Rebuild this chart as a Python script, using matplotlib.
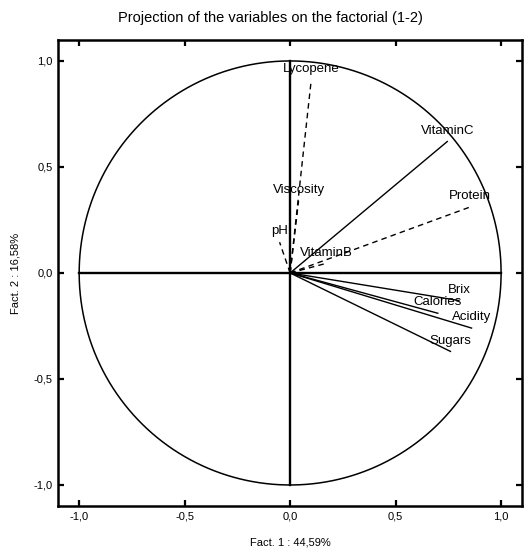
import numpy as np
import matplotlib
matplotlib.use("Agg")
import matplotlib.pyplot as plt

# Factor loadings of each variable on factors 1 and 2
variables = ["Lycopene", "VitaminC", "Protein", "Viscosity", "pH",
             "VitaminB", "Brix", "Calories", "Acidity", "Sugars"]
fact1 = [0.10, 0.745, 0.85, 0.04, -0.05, 0.17, 0.80, 0.70, 0.86, 0.76]
fact2 = [0.91, 0.62, 0.31, 0.34, 0.145, 0.045, -0.13, -0.19, -0.26, -0.37]
dashed = [True, False, True, True, True, True, False, False, False, False]

ticks = [-1.0, -0.5, 0.0, 0.5, 1.0]
tick_labels = ["-1,0", "-0,5", "0,0", "0,5", "1,0"]

title = "Projection of the variables on the factorial (1-2)"
xlabel = "Fact. 1 : 44,59%"
ylabel = "Fact. 2 : 16,58%"

plt.rcParams["font.family"] = ["Liberation Sans", "DejaVu Sans"]

fig = plt.figure(figsize=(5.28, 5.52), dpi=100)
ax = fig.add_axes([0.110, 0.083, 0.879, 0.845])

# Unit correlation circle
theta = np.linspace(0, 2 * np.pi, 400)
ax.plot(np.cos(theta), np.sin(theta), color="black", lw=1.1)

# Axes through the origin
ax.plot([-1, 1], [0, 0], color="black", lw=1.7)
ax.plot([0, 0], [-1, 1], color="black", lw=1.7)

# Variable vectors and labels
for name, x, y, d in zip(variables, fact1, fact2, dashed):
    ax.plot([0, x], [0, y], color="black", lw=1.0,
            linestyle=(0, (4, 3)) if d else "-")
    ax.annotate(name, (x, y), xytext=(0, 3.5), textcoords="offset points",
                ha="center", va="bottom", fontsize=9.5)

ax.set_xlim(-1.1, 1.1)
ax.set_ylim(-1.1, 1.1)
ax.set_xticks(ticks)
ax.set_xticklabels(tick_labels)
ax.set_yticks(ticks)
ax.set_yticklabels(tick_labels)
ax.tick_params(direction="in", length=4, width=1.6, labelsize=8,
               top=True, right=True, pad=4)
for s in ax.spines.values():
    s.set_linewidth(1.8)

ax.set_xlabel(xlabel, fontsize=8, labelpad=11)
ax.set_ylabel(ylabel, fontsize=8, labelpad=9)
fig.text(0.513, 0.967, title, ha="center", va="center", fontsize=10.5)

fig.savefig("out.png", dpi=100)
